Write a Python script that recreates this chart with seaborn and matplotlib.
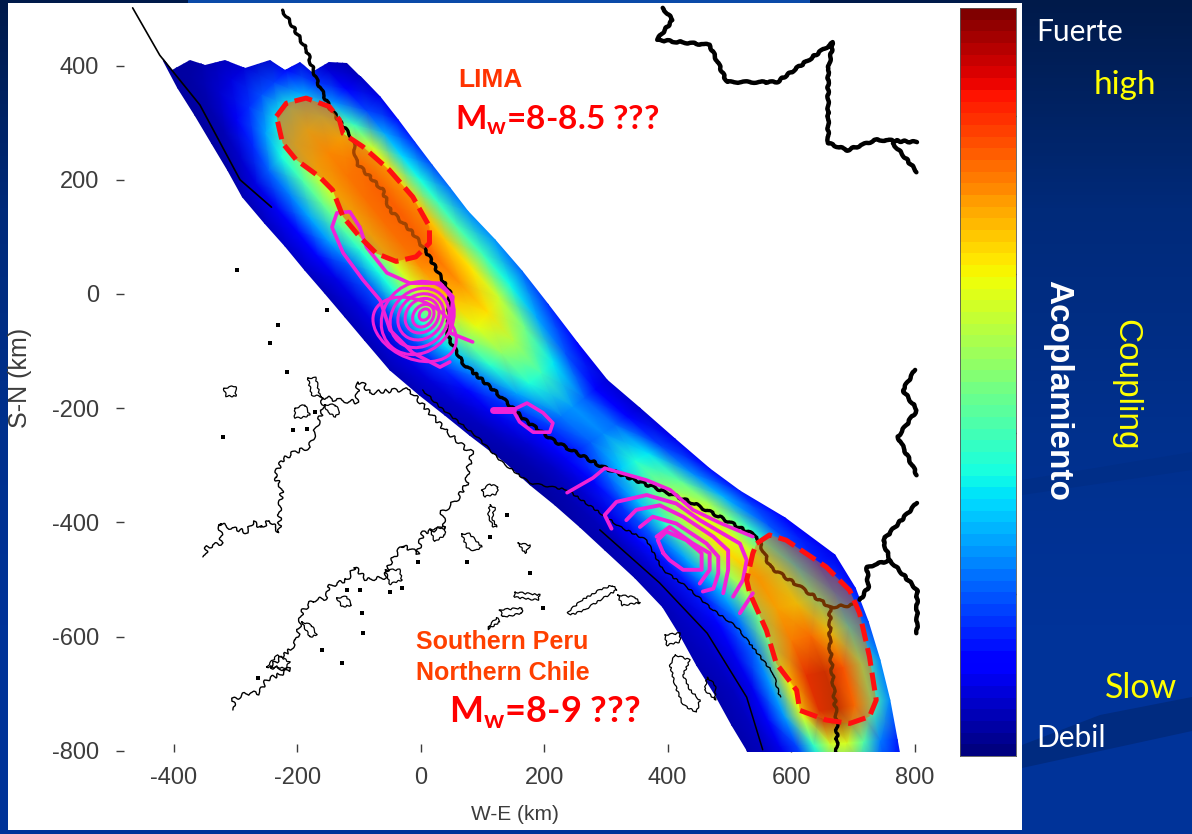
import numpy as np
import matplotlib
matplotlib.use('Agg')
import matplotlib.pyplot as plt
from matplotlib.colors import LinearSegmentedColormap
from matplotlib.patches import Ellipse, Rectangle, Polygon
import seaborn as sns

# Grid of the coupling model, km. One node per row on each side of the band
trench_x = [-418, -394, -366, -339, -313, -289, -253, -220, -188, -156, -123, -91, -50, -2, 39,
            79, 136, 177, 217, 258, 298, 347, 392, 420, 447, 477, 504, 528, 550]
trench_y = [410, 361, 313, 264, 217, 170, 124, 84, 42, 2, -40, -81, -133, -177, -212,
            -247, -294, -334, -369, -408, -448, -497, -548, -597, -650, -702, -755, -798, -860]
arc_x = [-245, -220, -188, -156, -128, -99, -66, -37, -10, 18, 47, 76, 120, 164, 206,
         254, 302, 355, 412, 468, 517, 590, 671, 704, 725, 744, 760, 772, 785]
arc_y = [594, 550, 501, 454, 413, 382, 345, 305, 266, 226, 186, 145, 95, 40, -18,
         -86, -151, -200, -254, -306, -345, -392, -457, -515, -574, -641, -711, -781, -860]

# Coupling 0-1, rows north to south, columns trench side to arc side
coupling = [
    [.03, .03, .03, .03, .03, .03, .03, .03, .03],
    [.03, .05, .06, .05, .03, .03, .03, .03, .03],
    [.03, .06, .10, .12, .10, .06, .03, .03, .03],
    [.03, .08, .18, .28, .32, .28, .18, .08, .03],
    [.04, .12, .28, .40, .48, .45, .30, .15, .05],
    [.05, .14, .35, .50, .66, .66, .42, .20, .06],
    [.06, .16, .35, .58, .72, .78, .68, .40, .12],
    [.07, .22, .42, .55, .70, .82, .82, .50, .15],
    [.05, .14, .33, .52, .74, .84, .82, .52, .18],
    [.05, .12, .28, .46, .72, .84, .82, .58, .22],
    [.05, .12, .27, .50, .72, .82, .80, .62, .25],
    [.05, .12, .28, .52, .70, .78, .78, .60, .28],
    [.05, .12, .26, .45, .64, .72, .72, .56, .26],
    [.05, .10, .20, .36, .54, .62, .62, .46, .20],
    [.04, .08, .14, .26, .42, .50, .50, .36, .15],
    [.04, .06, .10, .18, .28, .34, .34, .22, .10],
    [.03, .05, .08, .12, .16, .20, .20, .13, .06],
    [.03, .05, .08, .14, .22, .30, .34, .24, .08],
    [.04, .06, .10, .20, .34, .44, .48, .34, .12],
    [.04, .07, .14, .26, .44, .56, .60, .45, .15],
    [.04, .08, .17, .32, .56, .68, .70, .45, .15],
    [.05, .10, .22, .44, .70, .72, .35, .15, .08],
    [.05, .10, .18, .38, .70, .72, .50, .28, .12],
    [.05, .08, .13, .28, .62, .72, .60, .36, .16],
    [.04, .07, .12, .38, .80, .92, .92, .62, .22],
    [.04, .07, .14, .48, .96, 1.0, 1.0, .82, .30],
    [.04, .08, .14, .34, .76, 1.0, .90, .48, .22],
    [.04, .06, .10, .20, .34, .30, .25, .18, .10],
]

# Jagged northern limit of the model
top_edge_x = [-418, -404, -374, -350, -318, -285, -245, -220, -196, -177, -148, -120, -99]
top_edge_y = [413, 392, 410, 401, 410, 396, 410, 392, 406, 389, 406, 404, 382]

# Thick lines
andes_x = [-224, -201, -185, -169, -148, -110, -104, -62, -50, -13, 10, 47, 44, 68, 123, 169, 214,
           295, 376, 441, 545, 566, 663, 663, 674, 674]
andes_y = [497, 457, 427, 375, 327, 270, 229, 182, 147, 107, 72, 2, -75, -121, -173, -221, -256,
           -303, -338, -366, -425, -478, -548, -618, -751, -810]
andes_branch_x = [663, 700]
andes_branch_y = [-548, -545]
border_top_x = [392, 408, 383, 468, 496, 577, 668, 660, 660, 691, 739, 804]
border_top_y = [501, 480, 445, 436, 371, 371, 440, 392, 264, 252, 270, 266]
border_top2_x = [765, 804]
border_top2_y = [264, 214]
border_east_x = [801, 781, 804, 773, 804]
border_east_y = [-133, -168, -203, -250, -317]
border_se_x = [804, 749, 760, 723, 725, 712]
border_se_y = [-366, -431, -466, -478, -513, -536]
border_se2_x = [760, 804, 804]
border_se2_y = [-466, -518, -594]

# Thin lines
trench_nw_x = [-467, -423, -358, -293, -242]
trench_nw_y = [501, 418, 331, 200, 152]
coast_band_x = [3, 31, 91, 133, 177, 237, 323, 366, 392, 431, 473, 512, 571, 582]
coast_band_y = [-168, -198, -250, -296, -331, -343, -408, -431, -483, -513, -553, -583, -664, -706]
arc_b_x = [290, 387, 464, 528, 554]
arc_b_y = [-413, -506, -594, -706, -798]
coast_w_x = [-18, -34, -83, -94, -102, -104, -136, -159, -159, -169, -180, -207, -225, -237,
             -225, -229, -229, -245, -258, -272, -282, -313, -326, -323, -347, -350]
coast_w_y = [-168, -168, -173, -156, -154, -189, -186, -180, -203, -233, -268, -278, -291, -320,
             -340, -378, -418, -396, -410, -399, -417, -408, -401, -436, -443, -461]
coast_s_x = [-18, 3, 39, 75, 84, 76, 75, 58, 34, 39, 3, -5, -29, -50, -58, -88, -107, -120, -151,
             -151, -175, -193, -196, -201, -212, -245, -212, -250, -261, -282, -305, -302]
coast_s_y = [-168, -194, -238, -273, -278, -308, -331, -361, -382, -408, -418, -454, -440, -471,
             -496, -501, -478, -501, -513, -532, -536, -557, -576, -606, -623, -653, -658, -676,
             -699, -699, -711, -728]
islands = [
    [(-319, -165), (-300, -161), (-300, -179), (-316, -179)],
    [(-183, -147), (-170, -147), (-164, -177), (-160, -180), (-177, -177)],
    [(-204, -200), (-188, -194), (-180, -212), (-193, -217), (-204, -217)],
    [(-156, -194), (-139, -194), (-131, -207), (-139, -215), (-151, -207)],
    [(99, -343), (112, -333), (125, -338), (123, -350), (104, -355)],
    [(112, -369), (120, -375), (115, -392), (123, -408), (117, -408), (109, -387)],
    [(66, -420), (79, -420), (99, -443), (88, -450), (75, -445)],
    [(15, -413), (39, -408), (39, -422), (23, -434)],
    [(-58, -483), (-34, -483), (-31, -501), (-50, -508)],
    [(-136, -532), (-120, -530), (-112, -545), (-128, -548)],
    [(-193, -574), (-177, -580), (-169, -597), (-180, -601)],
    [(-250, -653), (-232, -632), (-212, -645), (-220, -655)],
    [(128, -553), (164, -550), (164, -559), (133, -566)],
    [(109, -583), (123, -567), (128, -574), (109, -587)],
    [(238, -557), (261, -536), (290, -518), (310, -510), (318, -518), (290, -536), (266, -553), (243, -562)],
    [(319, -527), (347, -531), (355, -541), (326, -545)],
    [(152, -522), (193, -527), (190, -536), (152, -531)],
    [(157, -436), (177, -440), (169, -454)],
    [(412, -632), (436, -641), (425, -667), (436, -693), (452, -711), (447, -732), (425, -720), (412, -685), (404, -650)],
    [(395, -597), (420, -594), (420, -609), (399, -615)],
    [(464, -671), (477, -685), (477, -711), (460, -693)],
]
islet_x = [-321, -207, -185, -172, -94, -128, -96, 75, -5, -50, -31, -120, -99, -264, -160, 198, 139, 112, -298, -152, -232, -245, -217, 177]
islet_y = [-250, -238, -236, -207, -594, -646, -559, -469, -469, -522, -515, -518, -518, -672, -623, -550, -387, -425, 42, -28, -54, -86, -137, -489]

# Interseismic contours
lima_outer_x = [-99, -115, -136, -144, -126, -94, -66, -50, -13, 31, 47]
lima_outer_y = [117, 144, 142, 117, 72, 25, -11, -63, -103, -128, -119]
lima_inner_x = [-99, -88, -55, -18, 31, 52, 47, 84]
lima_inner_y = [117, 82, 37, 19, 19, -5, -68, -84]
ring_x = [-10, -5, -2, 0, 2, 4, 6]
ring_y = [-62, -42, -42, -40, -38, -38, -36]
ring_w = [145, 113, 91, 71, 52, 32, 16]
ring_h = [100, 133, 108, 84, 63, 42, 21]
mid_x = [117, 149, 172, 198, 214, 209, 182, 160, 149]
mid_y = [-203, -203, -191, -208, -226, -242, -242, -224, -203]
south_top_x = [237, 279, 298, 366, 404, 441, 485, 538]
south_top_y = [-348, -322, -305, -326, -343, -378, -401, -425]
south_contours = [
    ([309, 298, 317, 366, 414, 452, 517, 528, 522, 506], [-411, -387, -364, -352, -367, -396, -437, -466, -501, -530]),
    ([333, 349, 387, 425, 474, 498, 498, 490], [-396, -378, -370, -390, -425, -449, -483, -524]),
    ([355, 376, 414, 463, 482, 482, 474, 457], [-408, -390, -402, -437, -460, -489, -516, -521]),
    ([382, 403, 441, 468, 468, 452], [-425, -408, -437, -454, -483, -507]),
    ([393, 384, 398, 430, 455, 455, 425, 403, 393], [-454, -431, -416, -431, -454, -483, -483, -466, -454]),
    ([538, 517], [-524, -559]),
]

# Asperity outlines
lima_patch_x = [-234, -218, -186, -148, -132, -126, -94, -51, -13, 14, 14, -8, -40, -72, -99, -126, -143, -164, -202, -224, -234]
lima_patch_y = [311, 334, 343, 328, 305, 281, 258, 217, 170, 118, 89, 65, 57, 71, 100, 135, 182, 205, 235, 264, 311]
south_patch_x = [544, 565, 592, 657, 695, 711, 727, 738, 727, 695, 657, 614, 609, 576, 560, 533, 528, 538, 544]
south_patch_y = [-437, -422, -431, -478, -519, -559, -635, -711, -740, -752, -746, -729, -694, -647, -589, -524, -501, -454, -437]

x_ticks = [-400, -200, 0, 200, 400, 600, 800]
y_ticks = [400, 200, 0, -200, -400, -600, -800]
cbar_ticks = [.217, .432, .644, .856]

W, H = 1192, 834
TICK_GREY = '#3c3c3c'
MAGENTA = '#f022d8'

sns.set_theme(style='white')
plt.rcParams['font.family'] = ['Liberation Sans', 'DejaVu Sans']
plt.rcParams['mathtext.fontset'] = 'custom'
plt.rcParams['mathtext.bf'] = 'Lato:bold'
plt.rcParams['axes.unicode_minus'] = False

fig = plt.figure(figsize=(W / 100, H / 100), dpi=100)

# slide background
bg = fig.add_axes([0, 0, 1, 1], zorder=0)
slide = LinearSegmentedColormap.from_list('slide', ['#001a4a', '#002a7a', '#00308c', '#003399', '#003399'])
bg.imshow(np.linspace(0, 1, 256).reshape(-1, 1), cmap=slide, aspect='auto', extent=[0, W, H, 0])
bg.fill([1022, 1192, 1192, 1100, 1022], [768, 731, 697, 715, 745], color='#002b80', lw=0)
bg.fill([1022, 1192, 1192, 1022], [495, 470, 452, 480], color='#002e88', lw=0)
bg.add_patch(Rectangle((8, 3), 1014, 827, color='white', lw=0))
bg.add_patch(Rectangle((188, 0), 622, 3, color='#0a4aa8', lw=0))
bg.set_xlim(0, W)
bg.set_ylim(H, 0)
bg.axis('off')

# main map
ax = fig.add_axes([124 / W, (H - 752) / H, 826 / W, 749 / H], zorder=1)
ax.patch.set_alpha(0)
frac = np.linspace(0, 1, 10)[None, :]
sw_x, sw_y = np.array(trench_x)[:, None], np.array(trench_y)[:, None]
ne_x, ne_y = np.array(arc_x)[:, None], np.array(arc_y)[:, None]

# gouraud wants a value on each node, so take the mean of the cells round it
cells = np.pad(np.array(coupling), 1, mode='edge')
nodes = (cells[:-1, :-1] + cells[1:, :-1] + cells[:-1, 1:] + cells[1:, 1:]) / 4
mesh = ax.pcolormesh(sw_x + (ne_x - sw_x) * frac, sw_y + (ne_y - sw_y) * frac, nodes,
                     cmap='jet', vmin=0, vmax=1, shading='gouraud', zorder=1)
keep = list(zip(top_edge_x, top_edge_y)) + [(1000, top_edge_y[-1]), (1000, -900), (-500, -900)]
mesh.set_clip_path(Polygon(keep, transform=ax.transData))


def draw(xs, ys, color='black', lw=1.0, z=2, rough=None, **kw):
    sns.lineplot(x=xs, y=ys, sort=False, estimator=None, color=color, lw=lw, zorder=z, ax=ax, **kw)
    if rough:
        # rough pixel edge of the scanned lines
        ax.lines[-1].set_sketch_params(*rough)


for xs, ys in [(andes_x, andes_y), (andes_branch_x, andes_branch_y)]:
    draw(xs, ys, lw=2.4, rough=(1.2, 14, 3))
for xs, ys in [(border_top_x, border_top_y), (border_top2_x, border_top2_y), (border_east_x, border_east_y),
               (border_se_x, border_se_y), (border_se2_x, border_se2_y)]:
    draw(xs, ys, lw=3.2, rough=(0.8, 14, 3))
draw(trench_nw_x, trench_nw_y, lw=1.2)
draw(coast_band_x, coast_band_y, lw=1.0, rough=(0.8, 12, 3))
draw(arc_b_x, arc_b_y, lw=1.1)
draw(coast_w_x, coast_w_y, lw=1.0, rough=(2.0, 12, 3))
draw(coast_s_x, coast_s_y, lw=1.0, rough=(2.0, 12, 3))
for isle in islands:
    loop = isle + isle[:1]
    draw([p[0] for p in loop], [p[1] for p in loop], lw=0.9, rough=(0.8, 8, 3))
sns.scatterplot(x=islet_x, y=islet_y, marker='s', s=7, color='black', linewidth=0, zorder=2, ax=ax)

# asperity fill lies over the lines, they turn dark red under it
ax.fill(lima_patch_x, lima_patch_y, color='#f86800', alpha=0.66, lw=0, zorder=3)
ax.fill(south_patch_x, south_patch_y, color='#f06800', alpha=0.47, lw=0, zorder=3)

draw(lima_outer_x, lima_outer_y, color=MAGENTA, lw=2.6, z=4)
draw(lima_inner_x, lima_inner_y, color=MAGENTA, lw=2.6, z=4)
for cx, cy, rw, rh in zip(ring_x, ring_y, ring_w, ring_h):
    ax.add_patch(Ellipse((cx, cy), rw, rh, angle=-30, fill=False, ec=MAGENTA, lw=2.2, zorder=4))
draw(mid_x[:2], mid_y[:2], color=MAGENTA, lw=5, z=4)
draw(mid_x, mid_y, color=MAGENTA, lw=2.6, z=4)
draw(south_top_x, south_top_y, color=MAGENTA, lw=2.6, z=4)
for xs, ys in south_contours:
    draw(xs, ys, color=MAGENTA, lw=2.8, z=4)

for xs, ys in [(lima_patch_x, lima_patch_y), (south_patch_x, south_patch_y)]:
    draw(xs, ys, color='#ff1010', lw=3.6, z=5, linestyle=(0, (3.6, 1.4)))

ax.set_xlim(-481, 857.5)
ax.set_ylim(-802, 509.5)
ax.set_xticks(x_ticks)
ax.set_yticks(y_ticks)
ax.grid(False)
sns.despine(ax=ax, left=True, bottom=True)
ax.tick_params(axis='x', bottom=True, direction='in', length=6, width=1, color=TICK_GREY, labelcolor=TICK_GREY,
               labelsize=17, pad=11)
ax.tick_params(axis='y', left=True, direction='out', length=6, width=1, color=TICK_GREY, labelcolor=TICK_GREY,
               labelsize=17, pad=12)
ax.set_xlabel('W-E (km)', color=TICK_GREY, fontsize=15)
ax.xaxis.set_label_coords((515 - 124) / 826, (752 - 805) / 749)
ax.set_ylabel('S-N (km)', color=TICK_GREY, fontsize=18)
ax.yaxis.set_label_coords((32 - 124) / 826, (752 - 378) / 749)

# colour bar
cax = fig.add_axes([960 / W, (H - 756) / H, 56 / W, 748 / H], zorder=1)
levels = np.linspace(1, 0, 64).reshape(-1, 1)
sns.heatmap(levels, cmap='jet', vmin=0, vmax=1, cbar=False, xticklabels=False, yticklabels=False, ax=cax)
cax.set_yticks([(1 - v) * 64 for v in cbar_ticks])
cax.set_yticklabels([])
cax.tick_params(axis='y', left=True, right=True, direction='in', length=5, width=1, color='black')
for side in cax.spines.values():
    side.set_visible(True)
    side.set_color('#555555')
    side.set_linewidth(0.6)


def label(px, py, s, **kw):
    fig.text(px / W, 1 - py / H, s, zorder=5, **kw)


label(458, 80, 'LIMA', color='#ff3300', fontsize=19, fontweight='bold', va='center')
label(455, 120, r'M$_{\mathbf{w}}$=8-8.5 ???', color='#ff0000', fontsize=24, fontweight='bold',
      family='Lato', va='center')
label(416, 642, 'Southern Peru', color='#ff4000', fontsize=18, fontweight='bold', va='center')
label(416, 673, 'Northern Chile', color='#ff4000', fontsize=18, fontweight='bold', va='center')
label(449, 712, r'M$_{\mathbf{w}}$=8-9 ???', color='#ff0000', fontsize=26, fontweight='bold',
      family='Lato', va='center')

label(1036, 32, 'Fuerte', color='white', fontsize=21.5, family='Lato', va='center')
label(1094, 85, 'high', color='#ffff00', fontsize=24, family='Lato', va='center')
label(1105, 688, 'Slow', color='#ffff00', fontsize=24.5, family='Lato', va='center')
label(1036, 738, 'Debil', color='white', fontsize=21.5, family='Lato', va='center')
label(1058, 391, 'Acoplamiento', color='white', fontsize=24, fontweight='bold', rotation=270,
      ha='center', va='center')
label(1126, 385, 'Coupling', color='#ffff00', fontsize=24, rotation=270, ha='center', va='center')

fig.savefig('out.png', dpi=100)
